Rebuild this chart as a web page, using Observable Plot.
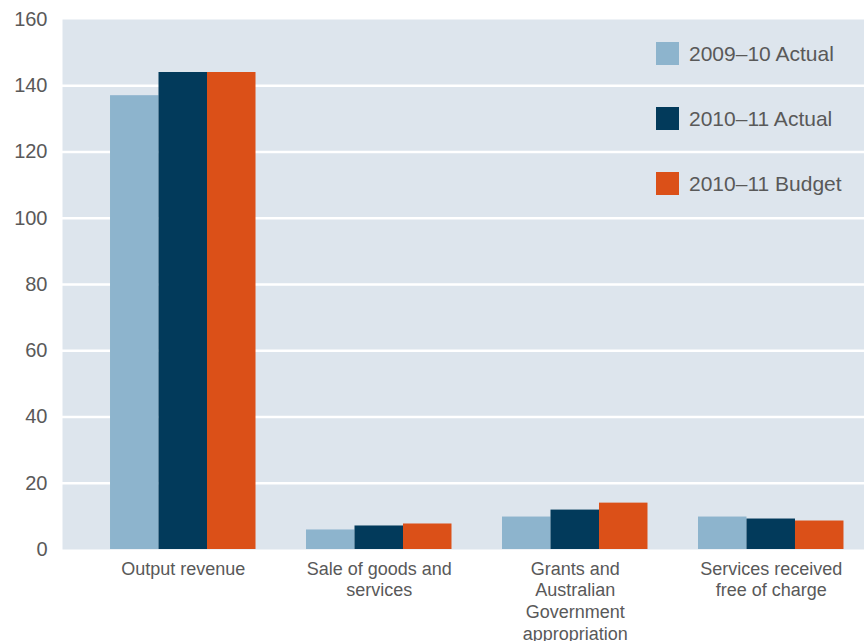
<!DOCTYPE html>
<html><head><meta charset="utf-8">
<script src="https://cdn.jsdelivr.net/npm/d3@7"></script>
<script src="https://cdn.jsdelivr.net/npm/@observablehq/plot@0.6"></script>
<style>
body{margin:0;background:#fff;font-family:"Liberation Sans",Arial,sans-serif;}
#wrap{position:relative;width:864px;height:641px;overflow:hidden;}
#legend{position:absolute;left:656px;top:42px;}
.item{display:flex;align-items:center;height:23px;margin-bottom:42px;font-size:21px;color:#595959;white-space:nowrap;}
.sw{width:23px;height:23px;margin-right:10px;flex:none;}
</style></head><body><div id="wrap"></div>
<script>
const categories = ["Output revenue", "Sale of goods and services", "Grants and Australian Government appropriation", "Services received free of charge"];
const categoryLabels = ["Output revenue", "Sale of goods and\nservices", "Grants and\nAustralian\nGovernment\nappropriation", "Services received\nfree of charge"];
const series = ["2009–10 Actual", "2010–11 Actual", "2010–11 Budget"];
const actual0910 = [137, 5.9, 9.8, 9.8];
const actual1011 = [144, 7.1, 11.9, 9.2];
const budget1011 = [144, 7.7, 14.0, 8.6];
const colors = ["#8db4cd", "#023a5b", "#db5018"];
const yTicks = [0, 20, 40, 60, 80, 100, 120, 140, 160];

const seriesValues = [actual0910, actual1011, budget1011];
const data = [];
categories.forEach((c, i) => series.forEach((s, j) => data.push({category: c, series: s, value: seriesValues[j][i]})));

const xRange = [62, 891.5];
const paddingInner = 0.2577, paddingOuter = 0.245;
const step = (xRange[1] - xRange[0]) / (categories.length - paddingInner + 2 * paddingOuter);
const sub = step * (1 - paddingInner) / series.length;

const chart = Plot.plot({
  width: 864, height: 641,
  marginLeft: 62, marginRight: 0, marginTop: 19, marginBottom: 92,
  style: {fontFamily: '"Liberation Sans", Arial, sans-serif', color: "#595959", background: "transparent"},
  x: {domain: categories, range: xRange, paddingInner, paddingOuter, round: false, axis: null},
  y: {domain: [0, 160], axis: null},
  color: {domain: series, range: colors},
  marks: [
    Plot.frame({fill: "#dde5ed", stroke: null}),
    Plot.ruleY(yTicks.filter(d => d > 0 && d < 160), {stroke: "#ffffff", strokeWidth: 2.5}),
    Plot.axisY({ticks: yTicks, tickSize: 0, tickPadding: 15, fontSize: 20, label: null, fill: "#595959"}),
    ...series.map((s, j) => Plot.barY(data.filter(d => d.series === s), {
      x: "category", y: "value", fill: "series",
      insetLeft: j * sub, insetRight: (series.length - 1 - j) * sub
    })),
    Plot.axisX({tickSize: 0, tickPadding: 10, fontSize: 18, lineHeight: 1.2, label: null, fill: "#595959",
      tickFormat: d => categoryLabels[categories.indexOf(d)]})
  ]
});
const wrap = document.getElementById("wrap");
wrap.appendChild(chart);
const legend = document.createElement("div");
legend.id = "legend";
series.forEach((s, j) => {
  const it = document.createElement("div"); it.className = "item";
  const sw = document.createElement("div"); sw.className = "sw"; sw.style.background = colors[j];
  const t = document.createElement("span"); t.textContent = s;
  it.appendChild(sw); it.appendChild(t); legend.appendChild(it);
});
wrap.appendChild(legend);
</script></body></html>
